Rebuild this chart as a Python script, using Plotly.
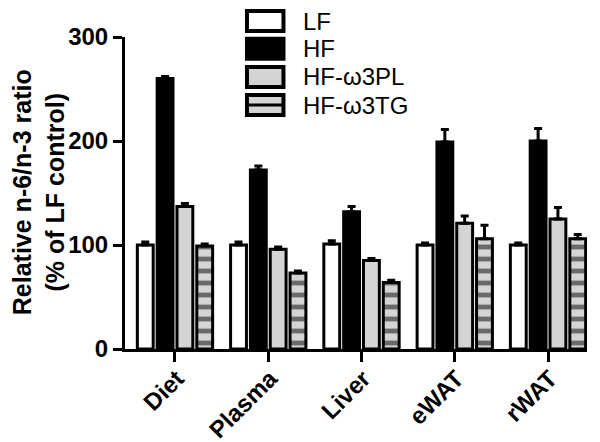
import plotly.graph_objects as go

categories = ["Diet", "Plasma", "Liver", "eWAT", "rWAT"]
series_names = ["LF", "HF", "HF-ω3PL", "HF-ω3TG"]
lf = [100, 100, 101, 100, 100]
hf = [260, 172, 132, 199, 200]
pl = [137, 96, 85, 121, 125]
tg = [99, 73, 64, 106, 106]
lf_err = [3, 3, 3, 2, 2]
hf_err = [2, 4, 5, 12, 12]
pl_err = [3, 2, 2, 7, 11]
tg_err = [2, 2, 2, 13, 4]
y_ticks = [0, 100, 200, 300]
y_title = "Relative n-6/n-3 ratio<br>(% of LF control)"

FONT = "Liberation Sans, Arial, Helvetica, sans-serif"
GRAY = "#d4d4d4"

fig = go.Figure()
specs = [
    (lf, lf_err, "white", None),
    (hf, hf_err, "black", None),
    (pl, pl_err, GRAY, None),
    (tg, tg_err, GRAY, dict(shape="-", fgcolor="black", bgcolor=GRAY, size=12, solidity=0.4)),
]
for name, (vals, errs, color, pattern) in zip(series_names, specs):
    marker = dict(color=color, line=dict(color="black", width=3))
    if pattern:
        marker["pattern"] = pattern
    fig.add_trace(go.Bar(
        x=categories, y=vals, name=name, marker=marker, showlegend=False,
        error_y=dict(type="data", array=errs, arrayminus=[0] * len(errs), symmetric=False,
                     color="black", thickness=3, width=4),
    ))

# manual legend (matches the boxed legend of the reference)
row_tops = [1.083, 0.994, 0.904, 0.814]
box_h = 0.064
for i, name in enumerate(series_names):
    y1 = row_tops[i]
    y0 = y1 - box_h
    fill = specs[i][2]
    fig.add_shape(type="rect", xref="paper", yref="paper", x0=0.264, x1=0.343, y0=y0, y1=y1,
                  fillcolor=fill, line=dict(color="black", width=4), layer="above")
    if i == 3:
        fig.add_shape(type="line", xref="paper", yref="paper", x0=0.264, x1=0.343,
                      y0=(y0 + y1) / 2, y1=(y0 + y1) / 2, line=dict(color="black", width=3))
    fig.add_annotation(xref="paper", yref="paper", x=0.38, y=(y0 + y1) / 2, text=name,
                       showarrow=False, xanchor="left", yanchor="middle",
                       font=dict(family=FONT, size=24, color="black"))

# y-axis title as a rotated annotation
fig.add_annotation(xref="paper", yref="paper", x=-0.188, y=0.503, text=y_title,
                   textangle=-90, showarrow=False, xanchor="center", yanchor="middle",
                   font=dict(family=FONT, size=25, color="black", weight="bold"))

fig.update_layout(
    width=600, height=442,
    margin=dict(l=117, r=21, t=29, b=101, autoexpand=False),
    paper_bgcolor="white", plot_bgcolor="white",
    barmode="group", bargap=0.15, bargroupgap=0.2,
    font=dict(family=FONT, color="black"),
)
fig.update_xaxes(
    range=[-0.536, 4.418], showline=True, linecolor="black", linewidth=3, automargin=False,
    ticks="outside", ticklen=10, tickwidth=3, tickcolor="black", tickangle=-45,
    ticklabelstandoff=-7, ticklabelshift=2,
    tickfont=dict(family=FONT, size=24, color="black", weight="bold"), showgrid=False,
)
fig.update_yaxes(
    range=[0, 300], tickvals=y_ticks, showline=True, linecolor="black", linewidth=3,
    automargin=False,
    ticks="outside", ticklen=9, tickwidth=3, tickcolor="black",
    tickfont=dict(family=FONT, size=24, color="black", weight="bold"), showgrid=False, zeroline=False,
)

fig.write_html("out.html")
